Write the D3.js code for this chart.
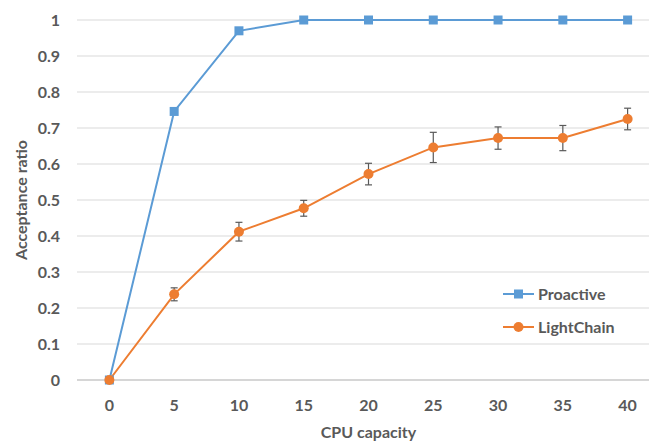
<!DOCTYPE html>
<html>
<head>
<meta charset="utf-8">
<script src="https://cdn.jsdelivr.net/npm/d3@7"></script>
<style>
  body { margin: 0; background: #fff; }
  text { font-family: Lato, "Open Sans", sans-serif; font-weight: bold; fill: #595959; }
</style>
</head>
<body>
<div id="chart"></div>
<script>
const capacidades = [0, 5, 10, 15, 20, 25, 30, 35, 40];
const proactive = [0, 0.746, 0.97, 1, 1, 1, 1, 1, 1];
const lightchain = [0, 0.238, 0.412, 0.477, 0.572, 0.646, 0.672, 0.672, 0.725];
const lightchainErr = [0, 0.018, 0.026, 0.022, 0.03, 0.042, 0.031, 0.035, 0.03];
const yTicks = [0, 0.1, 0.2, 0.3, 0.4, 0.5, 0.6, 0.7, 0.8, 0.9, 1];

const azul = "#5B9BD5";
const naranja = "#ED7D31";

let margin = { top: 20, right: -11, bottom: 61, left: 77 };
let width = 649 - margin.left - margin.right;
let height = 441 - margin.top - margin.bottom;

let svg = d3
  .select("#chart")
  .append("svg")
  .attr("width", 649)
  .attr("height", 441)
  .append("g")
  .attr("transform", "translate(" + margin.left + "," + margin.top + ")");

let x = d3.scalePoint().domain(capacidades).range([0, width]).padding(0.5);
let y = d3.scaleLinear().domain([0, 1]).range([height, 0]);

// rejilla
svg
  .append("g")
  .selectAll("line")
  .data(yTicks)
  .enter()
  .append("line")
  .attr("x1", 0)
  .attr("x2", width)
  .attr("y1", (d) => y(d))
  .attr("y2", (d) => y(d))
  .attr("stroke", (d) => (d === 0 ? "#c8c8c8" : "#d9d9d9"))
  .attr("stroke-width", (d) => (d === 0 ? 1.5 : 1));

// eje y
svg
  .append("g")
  .selectAll("text")
  .data(yTicks)
  .enter()
  .append("text")
  .attr("x", -17)
  .attr("y", (d) => y(d))
  .attr("dy", "0.35em")
  .attr("text-anchor", "end")
  .attr("font-size", "16px")
  .text((d) => d3.format("~g")(d));

// eje x
svg
  .append("g")
  .selectAll("text")
  .data(capacidades)
  .enter()
  .append("text")
  .attr("x", (d) => x(d))
  .attr("y", height + 25)
  .attr("dy", "0.35em")
  .attr("text-anchor", "middle")
  .attr("font-size", "16px")
  .text((d) => d);

svg
  .append("text")
  .attr("x", x(20))
  .attr("y", height + 58)
  .attr("text-anchor", "middle")
  .attr("font-size", "16px")
  .text("CPU capacity");

svg
  .append("text")
  .attr("transform", "translate(" + (-50) + "," + y(0.5) + ") rotate(-90)")
  .attr("text-anchor", "middle")
  .attr("font-size", "16px")
  .text("Acceptance ratio");

let linea = d3
  .line()
  .x((d, i) => x(capacidades[i]))
  .y((d) => y(d));

// barras de error
let idx = capacidades.map((c, i) => i).filter((i) => lightchainErr[i] > 0);
let err = svg
  .append("g")
  .attr("stroke", "#595959")
  .attr("stroke-width", 1.2)
  .selectAll("g")
  .data(idx)
  .enter()
  .append("g");

err
  .append("line")
  .attr("x1", (i) => x(capacidades[i]))
  .attr("x2", (i) => x(capacidades[i]))
  .attr("y1", (i) => y(lightchain[i] + lightchainErr[i]))
  .attr("y2", (i) => y(lightchain[i] - lightchainErr[i]));

[1, -1].forEach((s) => {
  err
    .append("line")
    .attr("x1", (i) => x(capacidades[i]) - 3.5)
    .attr("x2", (i) => x(capacidades[i]) + 3.5)
    .attr("y1", (i) => y(lightchain[i] + s * lightchainErr[i]))
    .attr("y2", (i) => y(lightchain[i] + s * lightchainErr[i]));
});

// lineas
svg
  .append("path")
  .datum(lightchain)
  .attr("fill", "none")
  .attr("stroke", naranja)
  .attr("stroke-width", 2)
  .attr("d", linea);

svg
  .append("path")
  .datum(proactive)
  .attr("fill", "none")
  .attr("stroke", azul)
  .attr("stroke-width", 2)
  .attr("d", linea);

svg
  .selectAll("rect.pro")
  .data(proactive)
  .enter()
  .append("rect")
  .attr("class", "pro")
  .attr("x", (d, i) => x(capacidades[i]) - 4.5)
  .attr("y", (d) => y(d) - 4.5)
  .attr("width", 9)
  .attr("height", 9)
  .attr("fill", azul);

svg
  .selectAll("circle.lc")
  .data(lightchain)
  .enter()
  .append("circle")
  .attr("class", "lc")
  .attr("cx", (d, i) => x(capacidades[i]))
  .attr("cy", (d) => y(d))
  .attr("r", 5)
  .attr("fill", naranja);

// leyenda
let leyenda = svg.append("g").attr("transform", "translate(426,274)");
let series = [
  { nombre: "Proactive", color: azul, forma: "rect" },
  { nombre: "LightChain", color: naranja, forma: "circle" },
];
series.forEach((s, i) => {
  let g = leyenda.append("g").attr("transform", "translate(0," + i * 33 + ")");
  g.append("line")
    .attr("x1", 0)
    .attr("x2", 31)
    .attr("stroke", s.color)
    .attr("stroke-width", 2);
  if (s.forma === "rect") {
    g.append("rect").attr("x", 11).attr("y", -4.5).attr("width", 9).attr("height", 9).attr("fill", s.color);
  } else {
    g.append("circle").attr("cx", 15.5).attr("r", 5).attr("fill", s.color);
  }
  g.append("text")
    .attr("x", 35)
    .attr("dy", "0.35em")
    .attr("font-size", "16px")
    .text(s.nombre);
});
</script>
</body>
</html>
